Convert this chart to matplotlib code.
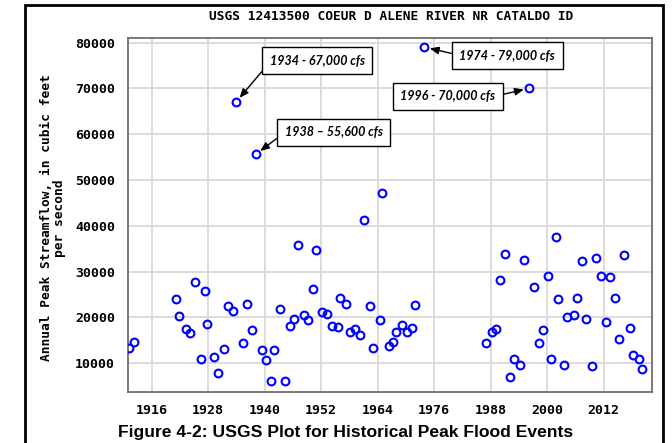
import matplotlib
matplotlib.use("Agg")
import matplotlib.pyplot as plt
from matplotlib.patches import Rectangle

# ---- data (decimal year of peak, peak flow cfs) ----
years = [1911.2, 1912.2, 1921.2, 1921.9, 1923.3, 1924.2, 1925.2, 1926.4, 1927.3, 1927.8,
         1929.3, 1930.1, 1931.4, 1932.3, 1933.3, 1933.9, 1935.4, 1936.2, 1937.3, 1938.1,
         1939.4, 1940.3, 1941.3, 1941.9, 1943.2, 1944.3, 1945.3, 1946.2, 1947.0, 1948.3,
         1949.3, 1950.2, 1951.0, 1952.2, 1953.2, 1954.2, 1955.6, 1955.9, 1957.3, 1958.2,
         1959.2, 1960.2, 1961.1, 1962.3, 1962.9, 1964.4, 1964.9, 1966.3, 1967.2, 1967.9,
         1969.2, 1970.3, 1971.3, 1972.0, 1973.9, 1986.9, 1988.3, 1989.2, 1989.9, 1991.0,
         1992.1, 1993.0, 1994.2, 1995.1, 1996.2, 1997.3, 1998.2, 1999.1, 2000.1, 2000.9,
         2001.8, 2002.4, 2003.6, 2004.2, 2005.7, 2006.3, 2007.5, 2008.2, 2009.6, 2010.3,
         2011.5, 2012.4, 2013.4, 2014.3, 2015.2, 2016.4, 2017.6, 2018.3, 2019.4, 2020.2]
peaks = [13300, 14700, 24000, 20200, 17400, 16500, 27700, 10900, 25700, 18500,
         11400, 7800, 13100, 22400, 21300, 67000, 14300, 23000, 17200, 55600,
         12800, 10600, 6200, 12800, 21900, 6000, 18200, 19700, 35900, 20600,
         19400, 26200, 34700, 21100, 20800, 18200, 17900, 24300, 23000, 16900,
         17500, 16200, 41300, 22400, 13300, 19400, 47100, 13800, 14600, 16900,
         18400, 16700, 17700, 22800, 79000, 14300, 16700, 17500, 28200, 33900,
         7000, 10900, 9500, 32600, 70000, 26700, 14300, 17200, 29100, 10900,
         37600, 24000, 9700, 20100, 20600, 24300, 32300, 19700, 9300, 33000,
         29100, 19000, 28800, 24300, 15200, 33700, 17700, 11700, 10900, 8700]

# annotations
ann_years = [1933.9, 1938.1, 1973.9, 1996.2]
ann_peaks = [67000, 55600, 79000, 70000]
ann_texts = ["1934 - 67,000 cfs", "1938 \u2013 55,600 cfs", "1974 - 79,000 cfs", "1996 - 70,000 cfs"]
ann_text_pos = [(1951.2, 76000), (1954.7, 60400), (1991.5, 77100), (1978.9, 68300)]
ann_relpos = [(0.0, 0.4), (0.0, 0.5), (0.0, 0.55), (1.0, 0.5)]

xticks = [1916, 1928, 1940, 1952, 1964, 1976, 1988, 2000, 2012]
yticks = [10000, 20000, 30000, 40000, 50000, 60000, 70000, 80000]

title = "USGS 12413500 COEUR D ALENE RIVER NR CATALDO ID"
ylabel = "Annual Peak Streamflow, in cubic feet\nper second"
caption = "Figure 4-2: USGS Plot for Historical Peak Flood Events"

mono = "DejaVu Sans Mono"

fig = plt.figure(figsize=(6.72, 4.43), dpi=100)
ax = fig.add_axes([127.7 / 672, 1 - 392 / 443, (651.7 - 127.7) / 672, (392 - 37.5) / 443])

ax.plot(years, peaks, linestyle="none", marker="o", markersize=5.6,
        markerfacecolor="none", markeredgecolor="#0000ff", markeredgewidth=1.5, zorder=3)

ax.set_xlim(1910.9, 2022.2)
ax.set_ylim(3700, 81100)
ax.set_xticks(xticks)
ax.set_yticks(yticks)
ax.set_xticklabels([str(t) for t in xticks], family=mono, fontsize=9.5, fontweight="bold")
ax.set_yticklabels([str(t) for t in yticks], family=mono, fontsize=9.5, fontweight="bold")
ax.tick_params(length=0, pad=9)
ax.grid(True, color="#d9d9d9", linewidth=1.3, zorder=0)
ax.set_axisbelow(True)
for s in ax.spines.values():
    s.set_color("#6e6e6e")
    s.set_linewidth(1.3)

fig.text(391 / 672, 1 - 16 / 443, title, family=mono, fontsize=9.3, fontweight="bold",
         ha="center", va="center")
fig.text(53 / 672, 1 - 218 / 443, ylabel, family=mono, fontsize=9.3, fontweight="bold",
         ha="center", va="center", rotation=90, multialignment="center", linespacing=1.0)
fig.text(346 / 672, 1 - 432 / 443, caption, family="Liberation Sans", fontsize=12.6,
         fontweight="bold", ha="center", va="center")

for (xv, yv, txt, pos, rp) in zip(ann_years, ann_peaks, ann_texts, ann_text_pos, ann_relpos):
    ax.annotate(txt, xy=(xv, yv), xytext=pos, textcoords="data",
                ha="center", va="center", fontsize=9, fontstyle="italic", fontweight="bold",
                family="Lato",
                bbox=dict(boxstyle="square,pad=0.6", facecolor="white", edgecolor="black",
                          linewidth=1.0),
                arrowprops=dict(arrowstyle="-|>,head_length=0.6,head_width=0.25", color="black",
                                linewidth=1.0, relpos=rp, shrinkA=0, shrinkB=4),
                zorder=5)

# outer black frame
fig.patches.append(Rectangle((25.5 / 672, -0.1), (663 - 25.5) / 672, 1.1 - 5.5 / 443,
                             transform=fig.transFigure, fill=False, edgecolor="black",
                             linewidth=2.0))

fig.savefig("out.png", dpi=100)
